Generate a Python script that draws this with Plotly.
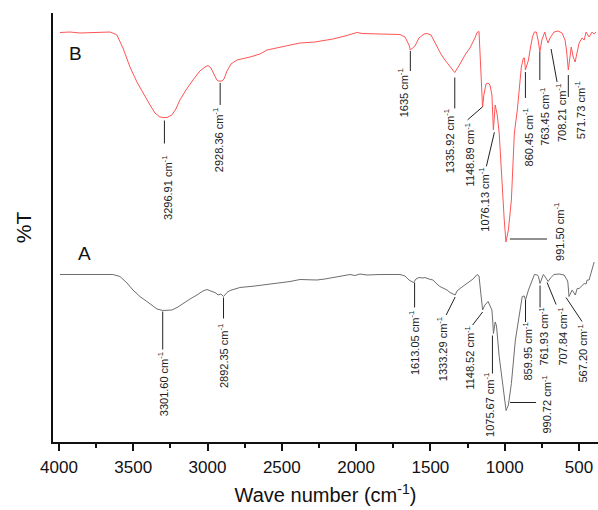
import numpy as np
import plotly.graph_objects as go

# ---------------- data ----------------
wn_B = [3993, 3926, 3859, 3791, 3724, 3657, 3630, 3610, 3569, 3522, 3475, 3435, 3387, 3354, 3320,
        3297, 3273, 3240, 3213, 3186, 3145, 3098, 3051, 3017, 2997, 2977, 2957, 2937, 2928, 2903,
        2889, 2869, 2842, 2802, 2714, 2647, 2600, 2513, 2378, 2277, 2156, 2075, 1994, 1960, 1927,
        1839, 1705, 1671, 1644, 1635, 1604, 1577, 1543, 1523, 1496, 1456, 1429, 1402, 1368, 1336,
        1301, 1267, 1234, 1213, 1200, 1186, 1173, 1159, 1149, 1140, 1126, 1112, 1099, 1086, 1079,
        1076, 1064, 1050, 1037, 1017, 1003, 991.5, 975, 955, 935, 915, 902, 888, 874, 867, 860.45,
        840, 827, 813, 800, 787, 775, 763.45, 750, 730, 720, 708.21, 695, 668, 641, 614, 594, 584,
        571.73, 559, 552, 539, 526, 512, 499, 479, 465, 452, 432, 412, 398, 385]
t_B = [81.9, 82.0, 81.8, 81.9, 81.9, 82.0, 81.7, 81.4, 78.8, 75.0, 72.0, 69.8, 67.4, 65.8, 65.0,
       64.9, 64.9, 65.4, 66.6, 68.4, 70.4, 72.4, 74.2, 75.0, 75.3, 74.8, 73.6, 72.4, 72.2, 72.2,
       72.6, 74.2, 75.6, 76.4, 77.0, 77.6, 78.4, 79.0, 79.8, 80.0, 80.6, 81.2, 81.9, 81.7, 81.7,
       81.6, 81.5, 81.0, 79.4, 78.4, 79.2, 80.8, 81.6, 81.7, 81.4, 79.1, 77.6, 76.4, 75.2, 73.9,
       75.6, 77.4, 78.8, 80.0, 80.8, 81.9, 82.1, 73.4, 67.0, 69.4, 71.6, 71.8, 71.4, 69.4, 65.4,
       62.4, 67.4, 65.4, 61.8, 51.0, 44.4, 40.0, 42.4, 48.4, 61.8, 66.4, 71.4, 75.0, 76.8, 76.8, 74.4,
       76.4, 78.8, 81.0, 82.0, 82.0, 80.4, 78.0, 80.4, 82.0, 80.8, 79.8, 80.8, 82.0, 82.2, 81.8, 80.4, 78.4,
       74.4, 78.0, 79.0, 77.0, 76.0, 78.0, 79.8, 80.8, 80.4, 82.0, 81.0, 82.0, 81.6, 82.0]

wn_A = [3993, 3859, 3724, 3637, 3589, 3542, 3502, 3455, 3408, 3374, 3340, 3301.6, 3240, 3199, 3165,
        3118, 3071, 3031, 3004, 2984, 2963, 2943, 2930, 2910, 2892.35, 2869, 2849, 2782, 2681, 2600,
        2513, 2445, 2378, 2311, 2263, 2210, 2156, 2109, 2041, 2008, 1974, 1927, 1839, 1705, 1671,
        1644, 1613.05, 1597, 1577, 1550, 1537, 1510, 1483, 1456, 1436, 1388, 1368, 1333.29, 1321,
        1301, 1267, 1234, 1213, 1200, 1186, 1173, 1166, 1156, 1148.52, 1140, 1133, 1112, 1099, 1086,
        1080, 1075.67, 1064, 1055, 1037, 1010, 990.72, 975, 955, 928, 902, 882, 868, 859.95, 840, 813,
        800, 780, 773, 761.93, 740, 727, 707.84, 692, 668, 634, 600, 580, 575, 567.2, 553, 546, 525,
        512, 499, 479, 465, 452, 445, 432, 418, 405, 398]
t_A = [33.5, 33.5, 33.5, 33.5, 33.1, 31.8, 30.4, 29.1, 28.1, 27.3, 26.6, 26.3, 26.4, 27.0, 27.7,
       28.6, 29.4, 30.2, 30.5, 30.3, 30.1, 29.8, 29.4, 29.6, 29.1, 29.9, 30.3, 30.9, 31.2, 31.5,
       31.8, 32.1, 32.5, 32.4, 32.4, 32.6, 32.9, 33.2, 33.5, 33.3, 33.6, 33.4, 33.5, 33.5, 33.2,
       32.4, 31.9, 32.6, 32.9, 32.8, 32.9, 32.6, 32.4, 31.6, 31.1, 30.4, 29.9, 29.4, 30.2,
       30.7, 31.4, 32.1, 32.6, 33.0, 33.5, 33.2, 31.1, 28.4, 26.4, 27.0, 27.4, 28.1, 27.4, 26.4,
       24.0, 21.7, 24.0, 23.2, 17.1, 10.4, 6.3, 7.4, 11.7, 20.4, 25.7, 29.1, 29.2, 28.4, 30.4, 32.4,
       33.5, 33.4, 33.1, 31.7, 33.5, 33.0, 32.1, 32.8, 33.5, 33.6, 33.4, 32.4, 32.0, 29.1, 30.2, 30.4, 29.4,
       30.7, 30.7, 31.2, 31.7, 31.6, 32.4, 32.4, 33.7, 35.1, 36.0]

peaks_B = ["3296.91", "2928.36", "1635", "1335.92", "1148.89", "1076.13", "991.50",
           "860.45", "763.45", "708.21", "571.73"]
peaks_A = ["3301.60", "2892.35", "1613.05", "1333.29", "1148.52", "1075.67", "990.72",
           "859.95", "761.93", "707.84", "567.20"]

x_ticks = [4000, 3500, 3000, 2500, 2000, 1500, 1000, 500]

# ---------------- label placement (pixel offsets from the peak) ----------------
# (line x0, y0, x1, y1, text xshift, text yshift)
place_B = [(1, -3, 1, -26, 3, -70), (2, -2, 2, -24, 0, -59), (0, -1, 0, -21, -7, -43),
           (0, -5, 0, -36, -5, -69), (0, 0, -15, -13, -13, -48), (1, -3, -7, -37, -9, -70),
           (4, 3, 41, 3, 53, 10), (0, -2, 0, -28, 3, -67), (0, 0, 0, -28, 5, -65),
           (3, -6, 9, -39, 13, -70), (0, -5, 0, -27, 12, -40)]
place_A = [(0, -1, 0, -39, 0, -74), (0, -1, 0, -22, -1, -60), (1, 0, 1, -25, 0, -61),
           (0, -2, -9, -20, -13, -54), (0, -2, -10, -15, -13, -48), (-1, -2, -1, -40, -5, -71),
           (4, 8, 30, 8, 40, 6), (0, 0, 0, -22, 2, -52), (0, -2, 0, -24, 3, -53),
           (-1, -1, 8, -23, 14, -55), (-3, -1, 13, -25, 13, -57)]

FONT = "Liberation Sans, Arial, sans-serif"

fig = go.Figure()
fig.add_trace(go.Scatter(x=wn_B, y=t_B, mode="lines", line=dict(color="#ff5555", width=1),
                         showlegend=False, hoverinfo="skip"))
fig.add_trace(go.Scatter(x=wn_A, y=t_A, mode="lines", line=dict(color="#6e6e6e", width=1),
                         showlegend=False, hoverinfo="skip"))

shapes = []
annotations = []


def add_labels(peaks, wn, t, place):
    order = np.argsort(wn)
    wn_s = np.array(wn)[order]
    t_s = np.array(t)[order]
    for lab, (lx0, ly0, lx1, ly1, tx, ty) in zip(peaks, place):
        w = float(lab)
        yv = float(np.interp(w, wn_s, t_s))
        shapes.append(dict(type="line", xref="x", yref="y", xsizemode="pixel", ysizemode="pixel",
                           xanchor=w, yanchor=yv, x0=lx0, y0=ly0, x1=lx1, y1=ly1,
                           line=dict(color="#222222", width=1)))
        annotations.append(dict(x=w, y=yv, xref="x", yref="y", text=f"{lab} cm<sup>-1</sup>",
                                textangle=-90, showarrow=False, xshift=tx, yshift=ty,
                                xanchor="center", yanchor="middle",
                                font=dict(family=FONT, size=11, color="#222222")))


add_labels(peaks_B, wn_B, t_B, place_B)
add_labels(peaks_A, wn_A, t_A, place_A)

annotations.append(dict(x=0.042, y=0.905, xref="paper", yref="paper", text="B", showarrow=False,
                        xanchor="center", yanchor="middle",
                        font=dict(family=FONT, size=19, color="#111111")))
annotations.append(dict(x=0.058, y=0.44, xref="paper", yref="paper", text="A", showarrow=False,
                        xanchor="center", yanchor="middle",
                        font=dict(family=FONT, size=19, color="#111111")))

fig.update_layout(
    width=598, height=510,
    margin=dict(l=53, r=0, t=13, b=68),
    paper_bgcolor="white", plot_bgcolor="white",
    font=dict(family=FONT, color="#111111"),
    shapes=shapes, annotations=annotations,
    xaxis=dict(range=[4040, 372], showgrid=False, zeroline=False,
               showline=True, linecolor="#111111", linewidth=2,
               ticks="outside", ticklen=7, tickwidth=1.5, tickcolor="#111111",
               tickvals=x_ticks, tickfont=dict(size=17, family=FONT, color="#111111"),
               ticklabelstandoff=2,
               minor=dict(ticks="outside", ticklen=4, tickwidth=1.5, tickcolor="#111111", dtick=250, tick0=0),
               title=dict(text="Wave number (cm<sup>-1</sup>)", font=dict(size=20, family=FONT, color="#111111"),
                          standoff=12)),
    yaxis=dict(range=[0, 85.8], showgrid=False, zeroline=False, showticklabels=False,
               showline=True, linecolor="#111111", linewidth=2, ticks="",
               title=dict(text="%T", font=dict(size=21, family=FONT, color="#111111"), standoff=14)),
)

fig.write_html("out.html", config={"displayModeBar": False},
               post_script="document.body.style.margin='0';document.body.style.overflow='hidden';")
